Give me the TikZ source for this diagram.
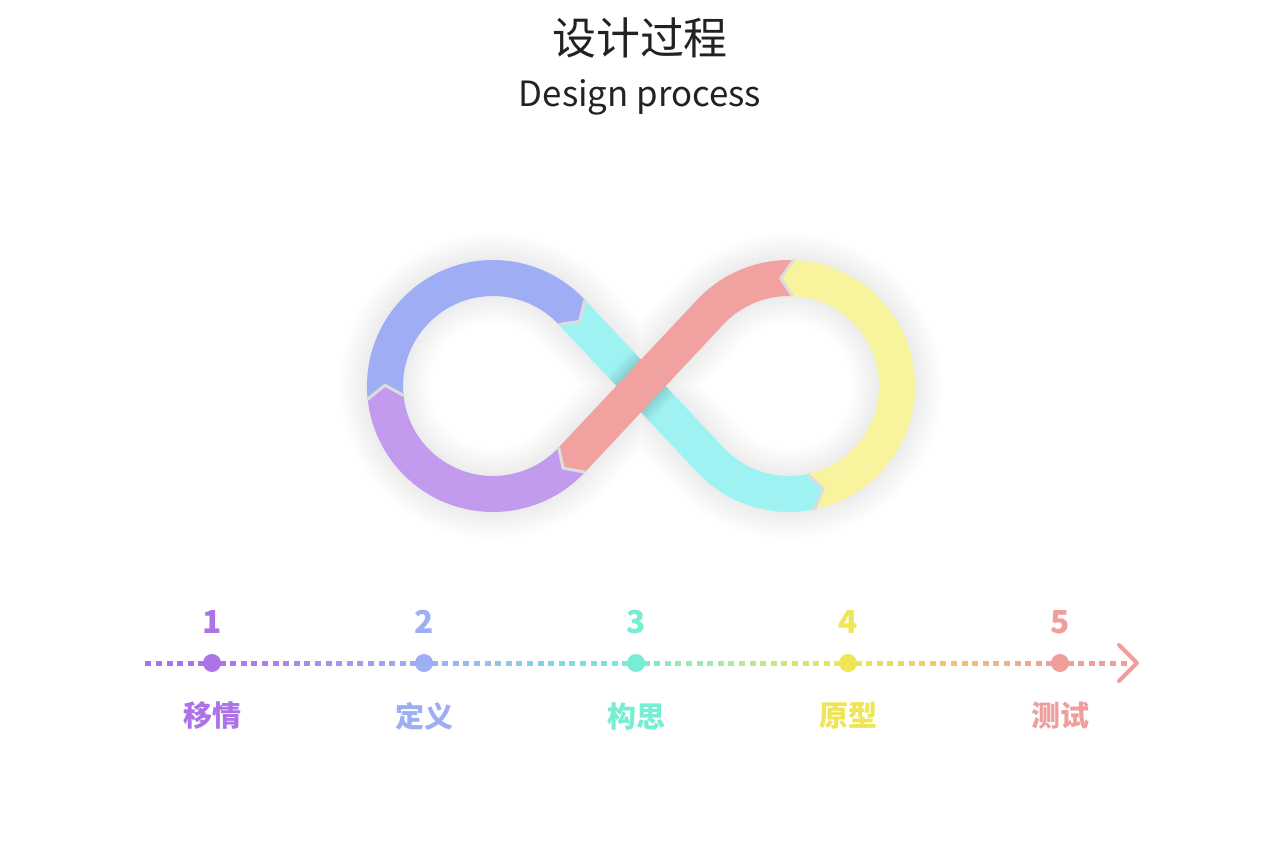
\documentclass[tikz,border=0pt]{standalone}
\usepackage{fontspec}
\setmainfont{Noto Sans CJK SC}
\usepackage{tikz}
\usetikzlibrary{calc}
\usetikzlibrary{positioning}

\definecolor{bandpurple}{HTML}{C39BEE}
\definecolor{bandblue}{HTML}{9FAEF4}
\definecolor{bandcyan}{HTML}{9EF3F2}
\definecolor{bandyellow}{HTML}{F8F49D}
\definecolor{bandred}{HTML}{F1A19F}
\definecolor{seamgray}{HTML}{DCDCDC}
\definecolor{dot1}{HTML}{AC72E8}
\definecolor{dot2}{HTML}{9DAEF5}
\definecolor{dot3}{HTML}{77EDD3}
\definecolor{dot4}{HTML}{EEE657}
\definecolor{dot5}{HTML}{F09E9C}
\definecolor{titlegray}{HTML}{222222}

\tikzstyle{title} = [text=titlegray, inner sep=0pt]
\tikzstyle{seam} = [draw=seamgray, line width=0.06cm, line join=miter]
\tikzstyle{stepdot} = [circle, inner sep=0pt, minimum size=0.36cm]
\tikzstyle{stepnum} = [font=\fontsize{18}{18}\selectfont\bfseries, inner sep=0pt]
\tikzstyle{steplabel} = [font=\fontsize{16.5}{16.5}\selectfont\bfseries, inner sep=0pt]

\begin{document}
\begin{tikzpicture}[x=0.02cm, y=0.02cm]
    \useasboundingbox (0,0) rectangle (1280,852);
    \fill[white] (0,0) rectangle (1280,852);

    \node [title, name=titlecn, font=\fontsize{25}{25}\selectfont] at (640,814) {设计过程};
    \node [title, name=titleen, font=\fontsize{19.8}{19.8}\selectfont] at (640,755) {Design process};

    \def\tang{43.14}
    \def\dl{6.4}
    \coordinate (L) at (493,466);
    \coordinate (R) at (789,466);

    % soft shadow
    \foreach \w in {36,42,...,90}
        \draw [black, opacity=0.008, line width=\w*0.02cm, shift={(0,-4)}]
            ($(L)+(\tang:108)$) -- ($(R)+(\tang-180:108)$)
            arc [start angle=\tang-180, end angle=180-\tang, radius=108]
            -- ($(L)+(-\tang:108)$)
            arc [start angle=-\tang, end angle=\tang-360, radius=108] -- cycle;

    \fill [bandpurple] ($(L)+(-\tang:126)$) arc [start angle=-\tang, end angle=-174, radius=126]
        -- ($(L)+(-174-\dl:108)$) -- ($(L)+(-174:90)$)
        arc [start angle=-174, end angle=-\tang, radius=90]
        -- ($(L)+(-\tang-\dl:108)$) -- cycle;
    \fill [bandblue] ($(L)+(186:126)$) arc [start angle=186, end angle=\tang, radius=126]
        -- ($(L)+(\tang-\dl:108)$) -- ($(L)+(\tang:90)$)
        arc [start angle=\tang, end angle=186, radius=90]
        -- ($(L)+(186-\dl:108)$) -- cycle;
    \path [save path=\cyanpath] ($(L)+(\tang:126)$) -- ($(R)+(\tang-180:90)$)
        arc [start angle=\tang-180, end angle=-78, radius=90]
        -- ($(R)+(-78+\dl:108)$) -- ($(R)+(-78:126)$)
        arc [start angle=-78, end angle=\tang-180, radius=126]
        -- ($(L)+(\tang:90)$) -- ($(L)+(\tang-\dl:108)$) -- cycle;
    \fill [bandcyan, use path=\cyanpath];
    \fill [bandyellow] ($(R)+(-78:126)$) arc [start angle=-78, end angle=88, radius=126]
        -- ($(R)+(88+\dl:108)$) -- ($(R)+(88:90)$)
        arc [start angle=88, end angle=-78, radius=90]
        -- ($(R)+(-78+\dl:108)$) -- cycle;

    % shadow of the red band on the cyan one
    \begin{scope}
        \clip [use path=\cyanpath];
        \foreach \w in {38,42,...,62}
            \draw [black, opacity=0.018, line width=\w*0.02cm, shift={(0,-2)}]
                ($(R)+(180-\tang:108)$) -- ($(L)+(-\tang:108)$);
    \end{scope}

    \fill [bandred] ($(R)+(88:126)$) arc [start angle=88, end angle=180-\tang, radius=126]
        -- ($(L)+(-\tang:90)$) -- ($(L)+(-\tang-\dl:108)$) -- ($(L)+(-\tang:126)$)
        -- ($(R)+(180-\tang:90)$)
        arc [start angle=180-\tang, end angle=88, radius=90]
        -- ($(R)+(88+\dl:108)$) -- cycle;

    \foreach \c/\a/\d in {L/-43.14/-6.4, L/186/-6.4, L/43.14/-6.4, R/-78/6.4, R/88/6.4}
        \draw [seam] ($(\c)+(\a:126)$) -- ($(\c)+(\a+\d:108)$) -- ($(\c)+(\a:90)$);

    % time line
    \foreach \j in {1,...,6} {
        \fill [dot1] (212-\j*10.6-3,186.5) rectangle ++(6,5);
        \fill [dot5] (1060+\j*10.6-3,186.5) rectangle ++(6,5);
    }
    \foreach \k/\ca/\cb in {0/dot1/dot2, 1/dot2/dot3, 2/dot3/dot4, 3/dot4/dot5}
        \foreach \j in {1,...,19} {
            \pgfmathtruncatemacro\mix{100-\j*5}
            \fill [\ca!\mix!\cb] (212+\k*212+\j*10.6-3,186.5) rectangle ++(6,5);
        }
    \coordinate (arrowtop) at (1119,207);
    \coordinate (arrowtip) at (1137,189);
    \coordinate (arrowbot) at (1119,171);
    \draw [dot5, line width=0.08cm, line cap=round, line join=round] (arrowtop) -- (arrowtip) -- (arrowbot);

    \foreach \i/\x/\lab in {1/212/移情, 2/424/定义, 3/636/构思, 4/848/原型, 5/1060/测试} {
        \node [stepdot, fill=dot\i, name=dot\i] at (\x,189) {};
        \node [stepnum, text=dot\i, name=num\i] at (\x,230) {\i};
        \node [steplabel, text=dot\i, name=lab\i] at (\x,136) {\lab};
    }
\end{tikzpicture}
\end{document}
